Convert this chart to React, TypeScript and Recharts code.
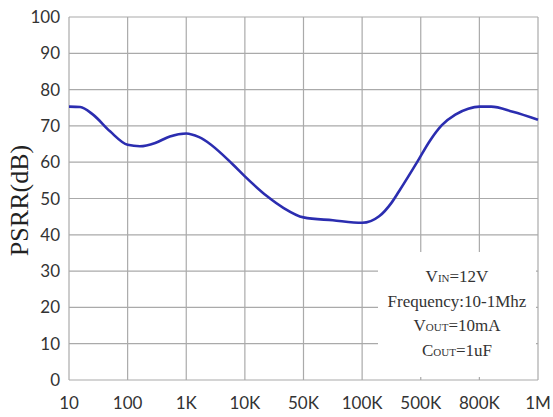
import { LineChart, Line, XAxis, YAxis, CartesianGrid } from 'recharts'

// x positions are category indexes (0 = 10Hz ... 8 = 1MHz), fractional = between ticks
const freqLabels = ['10', '100', '1K', '10K', '50K', '100K', '500K', '800K', '1M']
const xPos = [0, 0.19, 0.41, 0.7, 1, 1.21, 1.47, 1.72, 2, 2.22, 2.8, 3, 3.38, 3.65, 4, 4.5, 5, 5.29, 5.5, 5.63, 5.93, 6.16, 6.36, 6.59, 6.81, 7, 7.2, 7.57, 8]
const psrr = [75.3, 75.2, 73.1, 68.5, 64.8, 64.4, 65.3, 67.1, 67.9, 66.9, 59.3, 56.1, 50.6, 47.5, 44.8, 44.0, 43.3, 45.1, 48.8, 52, 59.8, 66.0, 70.2, 73.1, 74.7, 75.3, 75.3, 73.9, 71.7]
const yTicks = [0, 10, 20, 30, 40, 50, 60, 70, 80, 90, 100]

const data = xPos.map((x, i) => ({ x, psrr: psrr[i] }))

const tickStyle = { fontSize: 17, fill: '#333', fontFamily: 'Lato, sans-serif' }
const sub = { fontSize: 11 }

export default function App() {
  return (
    <div style={{ position: 'absolute', left: 0, top: 0, width: 553, height: 417, background: '#fff' }}>
      <LineChart width={553} height={417} data={data} margin={{ top: 17, right: 15, bottom: 0, left: 0 }}>
        <CartesianGrid stroke="#aaa" strokeWidth={1.2} />
        <XAxis
          dataKey="x" type="number" domain={[0, 8]} ticks={[0, 1, 2, 3, 4, 5, 6, 7, 8]}
          tickFormatter={(v: number) => freqLabels[v]} axisLine={false} tickLine={false}
          tickSize={0} tickMargin={17} height={37} tick={tickStyle} interval={0}
        />
        <YAxis
          type="number" domain={[0, 100]} ticks={yTicks} axisLine={false} tickLine={false}
          tickSize={0} tickMargin={9} width={69} tick={tickStyle} interval={0}
          label={({ viewBox }: any) => (
            <text
              x={28} y={viewBox.y + viewBox.height / 2 + 2}
              transform={`rotate(-90 28 ${viewBox.y + viewBox.height / 2 + 2})`}
              textAnchor="middle" fontSize={26} fill="#222" fontFamily="'Liberation Serif', serif"
            >PSRR(dB)</text>
          )}
        />
        <Line type="monotone" dataKey="psrr" stroke="#2b2db0" strokeWidth={2.6} dot={false} isAnimationActive={false} />
      </LineChart>
      <div style={{
        position: 'absolute', left: 378, top: 252, width: 158, height: 125, background: '#fff',
        display: 'flex', flexDirection: 'column', alignItems: 'center', justifyContent: 'center',
        fontFamily: "'Liberation Serif', serif", fontSize: 17, color: '#333', lineHeight: '24px'
      }}>
        <div>V<span style={sub}>IN</span>=12V</div>
        <div>Frequency:10-1Mhz</div>
        <div>V<span style={sub}>OUT</span>=10mA</div>
        <div>C<span style={sub}>OUT</span>=1uF</div>
      </div>
    </div>
  )
}
